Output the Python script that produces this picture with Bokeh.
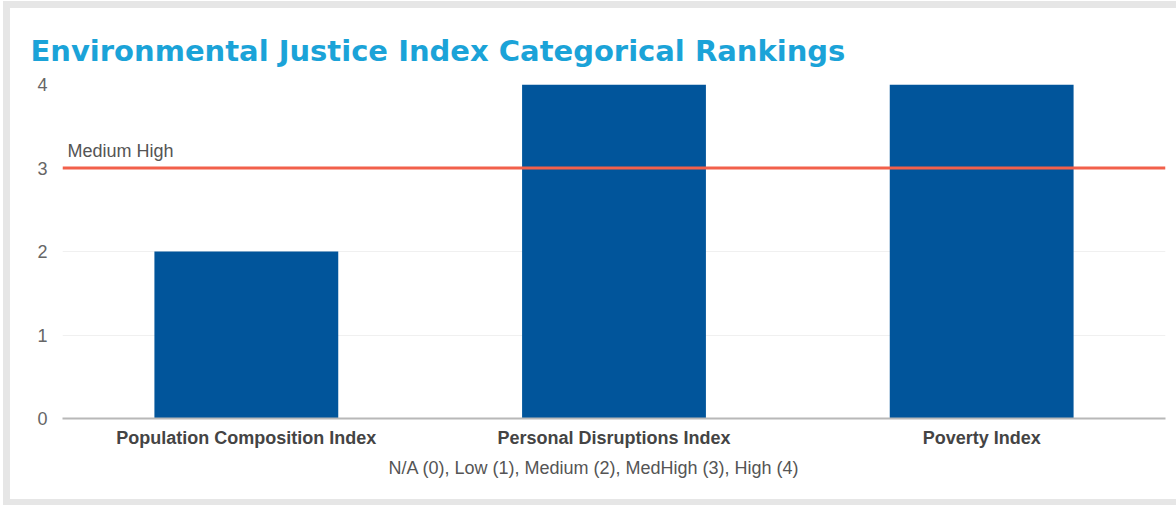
from bokeh.plotting import figure
from bokeh.models import Range1d, Label, Span, ColumnDataSource, Title
from bokeh.embed import file_html
from bokeh.resources import INLINE

categories = ["Population Composition Index", "Personal Disruptions Index", "Poverty Index"]
values = [2, 4, 4]
threshold = 3
threshold_label = "Medium High"
title_text = "Environmental Justice Index Categorical Rankings"
x_axis_title = "N/A (0), Low (1), Medium (2), MedHigh (3), High (4)"
y_ticks = [0, 1, 2, 3, 4]

FONT = "Liberation Sans"

p = figure(x_range=categories, y_range=Range1d(0, 4), width=1166, height=491,
           output_backend="svg", toolbar_location=None,
           min_border_left=52, min_border_right=11, min_border_top=76, min_border_bottom=81)
p.styles = {"margin-left": "10px", "margin-top": "8px", "outline": "7px solid #e6e6e6"}
p.outline_line_color = None
p.background_fill_color = "white"
p.border_fill_color = "white"

p.title.text = title_text
p.title.text_font = "DejaVu Sans"
p.title.text_font_style = "bold"
p.title.text_font_size = "29px"
p.title.text_color = "#1ba3d8"
p.title.align = "left"
p.title.offset = -32
p.title.standoff = 33

# axis title below the category labels, placed a little left of centre as in the reference
p.add_layout(Title(text=x_axis_title, align="left", offset=326, standoff=10,
                   text_font=FONT, text_font_style="normal", text_font_size="18px",
                   text_color="#555555"), "below")

src = ColumnDataSource(dict(x=categories, top=values))
p.vbar(x="x", top="top", width=0.5, source=src, color="#01559b", line_color=None)

p.add_layout(Span(location=threshold, dimension="width", line_color="#f2604b", line_width=3))
p.add_layout(Label(x=5, x_units="screen", y=threshold, y_offset=7, text=threshold_label,
                   text_font=FONT, text_font_size="18px", text_color="#555555",
                   text_baseline="bottom"))

p.xgrid.grid_line_color = None
p.ygrid.grid_line_color = "#f0f0f0"
p.ygrid.grid_line_width = 1

p.yaxis.ticker = y_ticks
p.yaxis.axis_line_color = None
p.yaxis.major_tick_line_color = None
p.yaxis.minor_tick_line_color = None
p.yaxis.major_label_text_font = FONT
p.yaxis.major_label_text_font_size = "18px"
p.yaxis.major_label_text_color = "#666666"
p.yaxis.major_label_standoff = 9

p.xaxis.axis_line_color = "#b8b8b8"
p.xaxis.axis_line_width = 2
p.xaxis.major_tick_line_color = None
p.xaxis.minor_tick_line_color = None
p.xaxis.major_label_text_font = FONT
p.xaxis.major_label_text_font_style = "bold"
p.xaxis.major_label_text_font_size = "18px"
p.xaxis.major_label_text_color = "#444444"
p.xaxis.major_label_standoff = 3

open("out.html", "w").write(file_html(p, INLINE))
